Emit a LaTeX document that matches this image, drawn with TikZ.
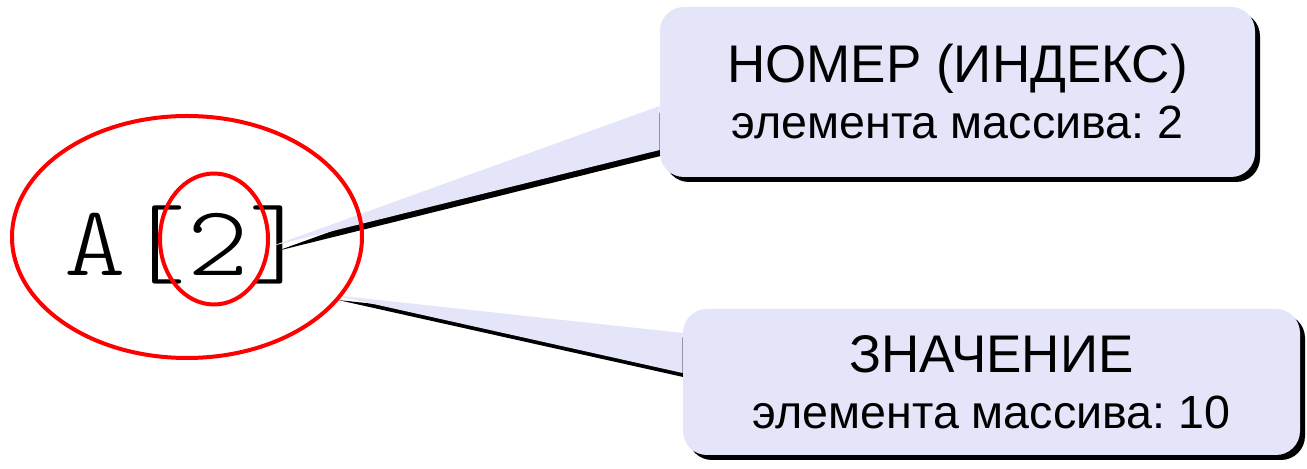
\documentclass[tikz,border=0pt]{standalone}
\usepackage{fontspec}
\setmainfont{Liberation Sans}
\newfontfamily\lightmono{lmmonolt10-regular.otf}
\usetikzlibrary{shapes.geometric,shadows,calc,backgrounds}
\definecolor{calloutfill}{RGB}{229,229,250}
\frenchspacing

\begin{document}
\begin{tikzpicture}[x=0.5pt,y=-0.5pt,
    callout/.style={fill=calloutfill, rounded corners=12pt, align=center, inner sep=0pt,
      font=\fontsize{23.3}{28}\selectfont,
      drop shadow={shadow xshift=2.5pt, shadow yshift=-2.5pt, fill=black, opacity=1}},
    ring/.style={draw=red, line width=2pt, ellipse, inner sep=0pt},
    tail/.style={fill=calloutfill},
    tailshadow/.style={fill=black}]
  \useasboundingbox (0,0) rectangle (1307,469);

  % callouts
  \node[callout, minimum width=297.5pt, minimum height=85pt] (idx) at (957.5,92)
    {{\fontsize{26.5}{28}\selectfont НОМЕР (ИНДЕКС)}\\элемента массива: 2};
  \node[callout, minimum width=308.5pt, minimum height=73pt] (val) at (991.5,382)
    {{\fontsize{26.5}{28}\selectfont ЗНАЧЕНИЕ}\\элемента массива: 10};

  % array element
  \node[ring, minimum width=175pt, minimum height=121pt] (arr) at (187,237) {};
  \node[ring, minimum width=54pt, minimum height=65.5pt] (num) at (214,239) {};

  \coordinate (idxtip) at (272,246);
  \coordinate (idxa) at ($(idx.west)+(0,14)$);
  \coordinate (idxb) at ($(idx.west)+(0,58)$);
  \coordinate (valtip) at (333,295);
  \coordinate (vala) at ($(val.west)+(0,-49)$);
  \coordinate (valb) at ($(val.west)+(0,-9)$);

  \begin{scope}[on background layer]
    \node[anchor=base, inner sep=0pt, xscale=1.17, transform shape,
      font=\lightmono\fontsize{50}{50}\selectfont] (name) at (187,276) {A[2]};
    % tails
    \fill[tailshadow] ($(idxtip)+(5,5)$) -- ($(idxa)+(5,5)$) -- ($(idxb)+(5,5)$) -- cycle;
    \fill[tailshadow] ($(valtip)+(5,5)$) -- ($(vala)+(5,5)$) -- ($(valb)+(5,5)$) -- cycle;
    \fill[tail] (idxtip) -- (idxa) -- (idxb) -- cycle;
    \fill[tail] (valtip) -- (vala) -- (valb) -- cycle;
  \end{scope}
\end{tikzpicture}
\end{document}
